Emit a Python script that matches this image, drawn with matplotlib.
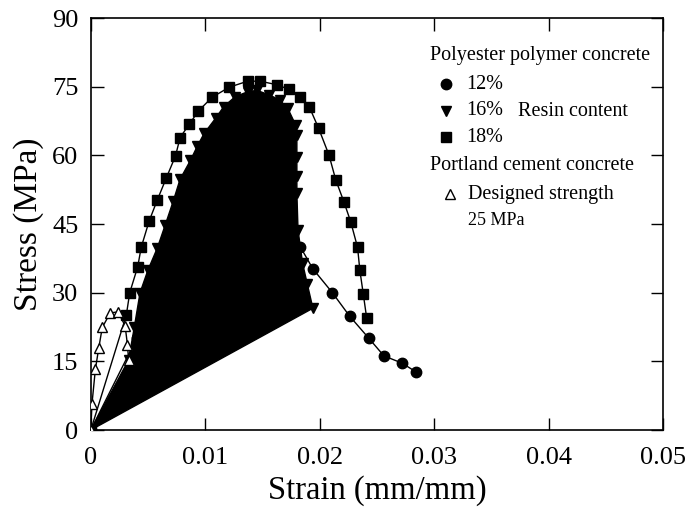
import matplotlib
matplotlib.use('Agg')
import matplotlib.pyplot as plt

plt.rcParams['font.family'] = ['Liberation Serif', 'DejaVu Serif']

# 18% resin (squares)
strain_18 = [0.0, 0.0031, 0.0034, 0.0041, 0.0044, 0.0051, 0.0058, 0.0066, 0.0074,
             0.0078, 0.0086, 0.0094, 0.0106, 0.0121, 0.0137, 0.0148, 0.0163, 0.0173,
             0.0183, 0.0191, 0.0199, 0.0208, 0.0214, 0.0221, 0.0227, 0.0233, 0.0235,
             0.0238, 0.0241]
stress_18 = [0.0, 25.1, 30.0, 35.7, 39.9, 45.7, 50.2, 55.1, 59.9, 63.9, 66.8, 69.7,
             72.7, 74.9, 76.2, 76.2, 75.4, 74.4, 72.8, 70.5, 65.9, 60.1, 54.6, 49.9,
             45.5, 39.9, 34.9, 29.7, 24.4]

# 16% resin (down triangles, drawn as filled outline)
strain_16 = [0.0, 0.0033, 0.0038, 0.0043, 0.0050, 0.0058, 0.0065, 0.0072, 0.0078,
             0.0087, 0.0093, 0.0099, 0.0109, 0.0116, 0.0126, 0.0137, 0.0145, 0.0156,
             0.0165, 0.0172, 0.0179, 0.0180, 0.0180, 0.0180, 0.0180, 0.0181, 0.0185,
             0.0189, 0.0194]
stress_16 = [0.0, 15.3, 22.5, 30.0, 35.0, 39.7, 44.8, 50.0, 54.8, 58.9, 62.0, 64.8,
             68.1, 70.6, 72.8, 73.9, 74.2, 73.2, 72.1, 70.3, 66.6, 64.4, 59.7, 55.5,
             51.7, 43.7, 36.4, 32.0, 26.6]

# 12% resin (circles)
strain_12 = [0.0, 0.0040, 0.0080, 0.0120, 0.0150, 0.0170, 0.0183, 0.0194, 0.0211,
             0.0226, 0.0243, 0.0256, 0.0272, 0.0284]
stress_12 = [0.0, 20.0, 40.0, 54.0, 56.0, 50.0, 40.0, 35.2, 30.0, 24.9, 20.0, 16.2,
             14.6, 12.7]

# Portland cement concrete (open triangles)
strain_pc = [0.0, 0.0001, 0.0004, 0.0007, 0.0010, 0.0017, 0.0024, 0.0030, 0.0032, 0.0033]
stress_pc = [0.0, 5.7, 13.3, 18.0, 22.4, 25.6, 25.8, 22.7, 18.6, 15.3]

xticks = [0, 0.01, 0.02, 0.03, 0.04, 0.05]
xticklabels = ['0', '0.01', '0.02', '0.03', '0.04', '0.05']
yticks = [0, 15, 30, 45, 60, 75, 90]

fig = plt.figure(figsize=(6.88, 5.08), dpi=100)
ax = fig.add_axes([0.132, 0.1535, 0.832, 0.811])

ms = 7.5
ax.plot(strain_12, stress_12, '-o', color='k', lw=1, ms=ms, zorder=2)
ax.fill(strain_16, stress_16, color='k', zorder=3)
ax.plot(strain_16, stress_16, 'v', color='k', ms=ms, zorder=3)
ax.plot(strain_18, stress_18, '-s', color='k', lw=1, ms=ms - 0.5, zorder=4)
ax.plot(strain_pc, stress_pc, '-^', color='k', mfc='white', lw=1, ms=ms, zorder=5)

ax.set_xlim(0, 0.05)
ax.set_ylim(0, 90)
ax.set_xticks(xticks)
ax.set_xticklabels(xticklabels)
ax.set_yticks(yticks)
ax.tick_params(direction='in', length=9, width=1, top=True, right=True,
               labelsize=19)
ax.tick_params(axis='x', pad=12)
ax.tick_params(axis='y', pad=9)
for s in ax.spines.values():
    s.set_linewidth(1.2)
ax.set_xlabel('Strain (mm/mm)', fontsize=23.5, labelpad=5)
ax.set_ylabel('Stress (MPa)', fontsize=24, labelpad=6)

# legend-like annotations
fs = 14.5
def px(x, y):
    return ((x - 91) / 572.0, (430 - y) / 412.0)

ax.text(*px(430, 55), 'Polyester polymer concrete', transform=ax.transAxes,
        fontsize=fs, va='center', ha='left')
ax.plot(*px(446, 84), 'o', color='k', ms=ms, transform=ax.transAxes)
ax.text(*px(466, 84), '12%', transform=ax.transAxes, fontsize=fs, va='center')
ax.plot(*px(446, 111), 'v', color='k', ms=ms, transform=ax.transAxes)
ax.text(*px(466, 110), '16%', transform=ax.transAxes, fontsize=fs, va='center')
ax.text(*px(518, 111), 'Resin content', transform=ax.transAxes, fontsize=fs, va='center')
ax.plot(*px(446, 137), 's', color='k', ms=ms - 1, transform=ax.transAxes)
ax.text(*px(466, 137), '18%', transform=ax.transAxes, fontsize=fs, va='center')
ax.text(*px(430, 165), 'Portland cement concrete', transform=ax.transAxes,
        fontsize=fs, va='center')
ax.plot(*px(450, 194), '^', color='k', mfc='white', ms=ms, transform=ax.transAxes)
ax.text(*px(468, 194), 'Designed strength', transform=ax.transAxes, fontsize=fs, va='center')
ax.text(*px(468, 220), '25 MPa', transform=ax.transAxes, fontsize=fs - 1.5, va='center')

fig.savefig('out.png', dpi=100)
